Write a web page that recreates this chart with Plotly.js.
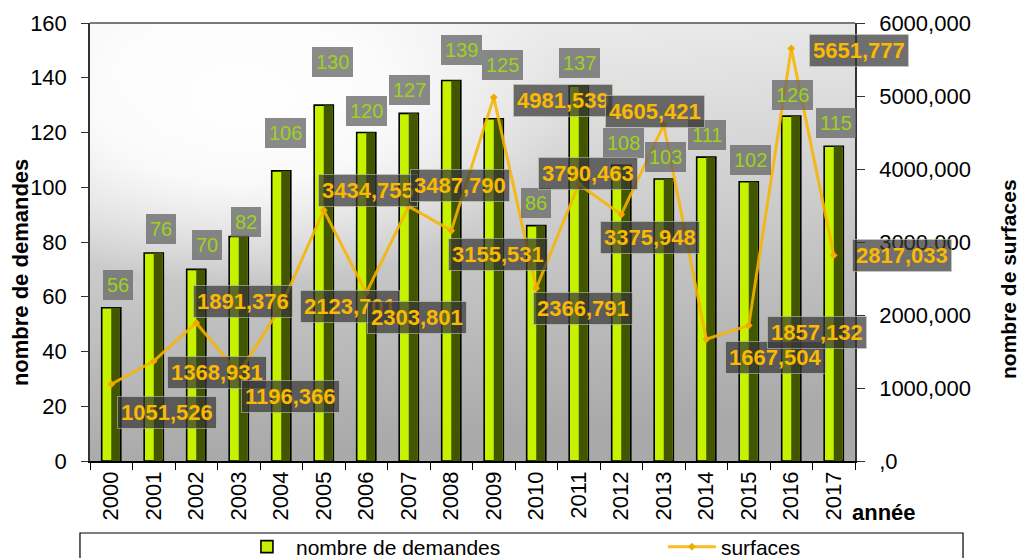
<!DOCTYPE html>
<html>
<head>
<meta charset="utf-8">
<script src="https://cdn.plot.ly/plotly-3.0.1.min.js"></script>
<style>
html,body{margin:0;padding:0;background:#fff;}
#chart{width:1023px;height:558px;}
</style>
</head>
<body>
<div id="chart"></div>
<script>
// ---- data ----
var years = ['2000','2001','2002','2003','2004','2005','2006','2007','2008','2009','2010','2011','2012','2013','2014','2015','2016','2017'];
var demandes = [56,76,70,82,106,130,120,127,139,125,86,137,108,103,111,102,126,115];
var surfaces = [1051.526,1368.931,1891.376,1196.366,2123.701,3434.755,2303.801,3487.790,3155.531,4981.539,2366.791,3790.463,3375.948,4605.421,1667.504,1857.132,5651.777,2817.033];
var leftTicks = [0,20,40,60,80,100,120,140,160];
var rightTickVals = [0,1000,2000,3000,4000,5000,6000];
var rightTickText = [',0','1000,000','2000,000','3000,000','4000,000','5000,000','6000,000'];

// ---- label placement (pixel offsets, layout only) ----
var demDx = [7,7,11,7,4,9,0,1,10,9,0,1,2,2,1,2,1,2];
var demDy = [23,24,24,15,38,43,22,23,30,54,23,23,22,22,22,22,21,23];
var surDx = [56,63,47,52,69,44,51,51,47,69,47,9,29,-9,69,68,68,68];
var surDy = [-28,-11,21,-23,-1,20,-25,21,-24,-3,-20,11,-23,13,-18,-7,-2,0];

var FONT = 'Liberation Sans, Arial, sans-serif';

function fmt(v){ return v.toFixed(3).replace('.', ','); }

var traces = [
  {
    type:'bar', name:'nombre de demandes', x:years, y:demandes,
    width:0.45, offset:-0.225,
    marker:{color:'#c6f200', line:{color:'#000', width:1.6}},
    legend:'legend', hoverinfo:'x+y'
  },
  {
    type:'bar', name:'shade', x:years, y:demandes,
    width:0.205, offset:0.0,
    marker:{color:'#425500', line:{width:0}},
    showlegend:false, hoverinfo:'skip'
  },
  {
    type:'scatter', mode:'lines+markers', name:'surfaces', x:years, y:surfaces,
    yaxis:'y2', legend:'legend2',
    line:{color:'rgba(247,180,0,0.88)', width:3},
    marker:{color:'rgba(240,170,0,1)', size:6, symbol:'diamond'}
  }
];

var annotations = [];
years.forEach(function(yr,i){
  annotations.push({
    x:i, y:demandes[i], xref:'x', yref:'y', showarrow:false,
    text:String(demandes[i]), xshift:demDx[i], yshift:demDy[i],
    font:{family:FONT, size:20, color:'#9ed21c'},
    bgcolor:'rgba(105,105,105,0.78)', borderpad:4, borderwidth:0
  });
});
years.forEach(function(yr,i){
  annotations.push({
    x:i, y:surfaces[i], xref:'x', yref:'y2', showarrow:false,
    text:fmt(surfaces[i]), xshift:surDx[i], yshift:surDy[i],
    font:{family:FONT, size:22, color:'#fbb900', weight:'bold'},
    bgcolor:'rgba(55,55,55,0.72)', bordercolor:'rgba(200,210,180,0.55)', borderwidth:1, borderpad:3
  });
});
annotations.push({
  text:'nombre de demandes', xref:'paper', yref:'paper', x:-0.0915, y:0.429,
  xanchor:'center', yanchor:'middle',
  textangle:-90, showarrow:false, font:{family:FONT, size:22, color:'#000', weight:'bold'}
});
annotations.push({
  text:'nombre de surfaces', xref:'paper', yref:'paper', x:1.2, y:0.4155,
  xanchor:'center', yanchor:'middle',
  textangle:-90, showarrow:false, font:{family:FONT, size:21, color:'#000', weight:'bold'}
});
annotations.push({
  text:'année', xref:'paper', yref:'paper', x:1.038, y:-0.1187,
  xanchor:'center', yanchor:'middle',
  showarrow:false, font:{family:FONT, size:22, color:'#000', weight:'bold'}
});

var svg = '<svg xmlns="http://www.w3.org/2000/svg" width="765" height="438" viewBox="0 0 765 438" preserveAspectRatio="none">' +
  '<defs>' +
  '<linearGradient id="lin" x1="0" y1="0" x2="0.15" y2="1">' +
  '<stop offset="0" stop-color="#f2f2f2"/><stop offset="0.45" stop-color="#d2d2d2"/><stop offset="1" stop-color="#a9a9a9"/></linearGradient>' +
  '<radialGradient id="rad" cx="0.2" cy="0.18" r="0.42" gradientUnits="objectBoundingBox">' +
  '<stop offset="0" stop-color="#ffffff" stop-opacity="1"/><stop offset="0.45" stop-color="#ffffff" stop-opacity="0.85"/>' +
  '<stop offset="1" stop-color="#ffffff" stop-opacity="0"/></radialGradient>' +
  '</defs>' +
  '<rect width="765" height="438" fill="url(#lin)"/><rect width="765" height="438" fill="url(#rad)"/></svg>';
var bg = 'data:image/svg+xml;charset=utf-8,' + encodeURIComponent(svg);

var layout = {
  width:1023, height:558,
  margin:{l:90, r:168, t:23, b:97},
  paper_bgcolor:'#ffffff', plot_bgcolor:'rgba(0,0,0,0)',
  font:{family:FONT, size:22, color:'#000'},
  barmode:'overlay',
  showlegend:true,
  xaxis:{
    type:'category', categoryorder:'array', categoryarray:years, range:[-0.5, years.length-0.5],
    tickangle:-90, tickson:'boundaries', ticks:'outside', ticklen:7,
    tickcolor:'#000', showline:true, linecolor:'#000', linewidth:1.5,
    tickfont:{family:FONT, size:22, color:'#000'}, showgrid:false, zeroline:false
  },
  yaxis:{
    range:[0,160], tickvals:leftTicks, ticks:'outside', ticklen:7, tickcolor:'#333',
    showline:true, linecolor:'#333', linewidth:1.5, showgrid:false, zeroline:false,
    tickfont:{family:FONT, size:22, color:'#000'}, ticklabelstandoff:10
  },
  yaxis2:{
    overlaying:'y', side:'right', range:[0,6000], tickvals:rightTickVals, ticktext:rightTickText,
    ticks:'outside', ticklen:8, tickcolor:'#333', showline:true, linecolor:'#333', linewidth:1.5,
    showgrid:false, zeroline:false, tickfont:{family:FONT, size:22, color:'#000'}, ticklabelstandoff:10
  },
  legend:{
    orientation:'h', xref:'container', yref:'container', x:0.2326, y:0.0197, xanchor:'left', yanchor:'middle',
    bgcolor:'rgba(0,0,0,0)', font:{family:FONT, size:21, color:'#000'}, itemwidth:48
  },
  legend2:{
    orientation:'h', xref:'container', yref:'container', x:0.648, y:0.0197, xanchor:'left', yanchor:'middle',
    bgcolor:'rgba(0,0,0,0)', font:{family:FONT, size:21, color:'#000'}, itemwidth:48
  },
  images:[{source:bg, xref:'paper', yref:'paper', x:0, y:1, sizex:1, sizey:1,
    sizing:'stretch', xanchor:'left', yanchor:'top', layer:'below'}],
  shapes:[
    {type:'line', xref:'paper', yref:'paper', x0:0, x1:1, y0:1, y1:1, line:{color:'#7a7a7a', width:2}},
    {type:'rect', xref:'paper', yref:'paper', x0:-0.0131, x1:1.1412, y0:-0.235, y1:-0.1644,
      line:{color:'#000', width:1.2}, fillcolor:'rgba(0,0,0,0)', layer:'below'}
  ],
  annotations:annotations
};

Plotly.newPlot('chart', traces, layout, {displayModeBar:false, responsive:false});
</script>
</body>
</html>
